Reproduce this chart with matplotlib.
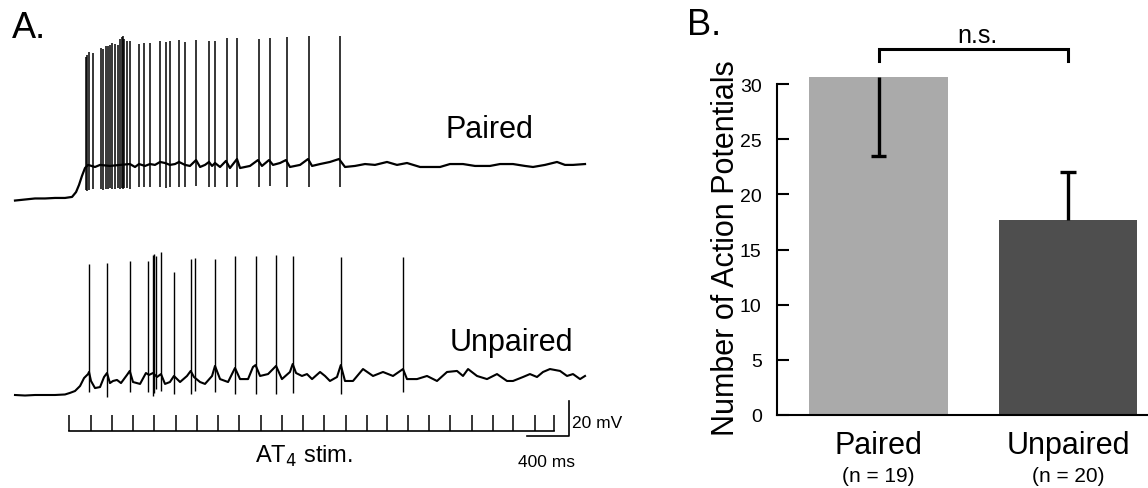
import matplotlib
matplotlib.use("Agg")
import matplotlib.pyplot as plt
import matplotlib.transforms as mtransforms
import numpy as np

plt.rcParams['font.family'] = ['Liberation Sans', 'DejaVu Sans']

# ---------------- Panel A data (time in ms, voltage in mV relative to rest) ----------------
paired_spike_t = [670, 687, 706, 738, 817, 836, 860, 879, 907, 922, 950, 974,
                  998, 1012, 1026, 1040, 1064, 1088, 1181, 1230, 1284, 1378, 1430, 1468,
                  1558, 1612, 1720, 1843, 1900, 2011, 2109, 2318, 2422, 2584, 2790, 3088]
paired_spike_peak = [82.1, 83.2, 85.0, 84.4, 87.3, 86.7, 88.4, 88.4, 89.0, 90.2, 89.6, 89.0,
                     92.5, 93.6, 94.2, 92.5, 91.3, 91.3, 89.6, 90.2, 90.2, 91.3, 90.8, 91.3,
                     91.9, 90.8, 91.9, 91.3, 91.3, 93.1, 93.1, 92.5, 93.1, 93.6, 94.2, 94.2]
paired_spike_trough = [5.2, 4.6, 5.2, 5.8, 5.8, 5.2, 5.8, 5.8, 6.4, 5.8, 5.8, 6.4,
                       5.8, 6.4, 5.8, 6.4, 6.4, 5.8, 6.9, 6.9, 6.9, 6.9, 6.4, 6.9,
                       6.9, 6.9, 7.5, 6.9, 6.9, 6.9, 6.9, 6.9, 7.5, 6.9, 6.9, 6.9]
paired_base_t = [0, 95, 190, 285, 380, 475, 542, 580, 608, 636,
                 665, 694, 760, 808, 902, 998, 1092, 1140, 1178, 1235,
                 1282, 1330, 1378, 1425, 1472, 1520, 1558, 1615, 1662, 1720,
                 1758, 1805, 1843, 1872, 1900, 1948, 2004, 2042, 2109, 2138,
                 2232, 2308, 2346, 2413, 2451, 2518, 2574, 2612, 2708, 2784,
                 2822, 2898, 2992, 3078, 3135, 3230, 3325, 3420, 3534, 3629,
                 3724, 3848, 4038, 4132, 4256, 4370, 4512, 4608, 4731, 4845,
                 4921, 5035, 5149, 5225, 5301, 5415]
paired_base_v = [-0.9, -0.3, 0.3, 0.3, 0.6, 0.6, 1.2, 4.0, 8.1, 13.3,
                 17.9, 19.7, 18.5, 19.7, 19.1, 19.7, 20.2, 18.5, 20.2, 19.1,
                 20.2, 19.7, 21.4, 20.8, 19.7, 20.2, 21.4, 19.7, 19.1, 22.5,
                 18.5, 19.7, 21.4, 19.1, 20.8, 18.5, 22.0, 17.9, 23.1, 17.9,
                 19.1, 22.5, 19.1, 22.5, 19.7, 20.8, 22.5, 18.5, 19.7, 23.1,
                 19.1, 20.2, 21.4, 23.1, 18.5, 19.1, 20.2, 19.7, 21.4, 19.7,
                 20.8, 18.5, 18.5, 20.2, 20.2, 19.1, 19.1, 20.2, 20.2, 19.1,
                 18.5, 19.7, 21.4, 19.7, 19.7, 20.2]

unpaired_spike_t = [703, 874, 1090, 1266, 1308, 1323, 1340, 1387, 1513,
                    1669, 1708, 1903, 2092, 2285, 2478, 2638, 3095, 3689]
unpaired_spike_peak = [75.7, 76.3, 77.6, 77.6, 80.9, 81.3, 80.5, 82.5, 70.9,
                       78.6, 79.2, 78.6, 80.2, 80.5, 80.9, 80.2, 79.6, 79.6]
unpaired_spike_trough = [1.6, -1.3, 1.6, 1.6, -0.4, 1.0, 3.5, 2.5, 0.6,
                         0.6, 2.5, 1.6, 0.6, 0.6, 0.6, 1.2, 0.6, 1.6]
unpaired_base_t = [0, 95, 190, 285, 380, 475, 522, 570, 618, 656,
                   694, 703, 722, 760, 808, 846, 874, 902, 931, 969,
                   1007, 1064, 1090, 1121, 1188, 1244, 1273, 1311, 1349, 1387,
                   1425, 1472, 1510, 1568, 1634, 1669, 1700, 1758, 1805, 1872,
                   1900, 1948, 2024, 2071, 2090, 2138, 2214, 2261, 2285, 2328,
                   2404, 2451, 2480, 2536, 2612, 2638, 2670, 2726, 2774, 2822,
                   2898, 2945, 2992, 3059, 3095, 3135, 3211, 3306, 3401, 3496,
                   3591, 3686, 3724, 3819, 3914, 4009, 4104, 4199, 4256, 4304,
                   4389, 4484, 4579, 4674, 4731, 4826, 4892, 4959, 5016, 5082,
                   5178, 5244, 5301, 5368, 5415]
unpaired_base_v = [0, -0.3, 0, 0, 0, 0.3, 1.2, 2.3, 5.2, 9.8,
                   12.1, 13.3, 8.1, 4.0, 4.6, 10.4, 12.7, 6.9, 8.1, 8.7,
                   6.9, 11.6, 13.9, 7.5, 6.4, 12.7, 11.6, 12.7, 10.4, 12.1,
                   6.4, 7.5, 11.0, 7.5, 11.0, 13.9, 10.4, 7.5, 6.4, 11.0,
                   16.8, 9.2, 7.5, 13.3, 15.6, 9.2, 9.2, 16.2, 17.3, 11.0,
                   12.1, 15.0, 16.8, 9.2, 13.3, 17.9, 12.7, 11.0, 12.1, 9.2,
                   13.3, 11.0, 8.1, 10.4, 17.3, 8.1, 8.1, 15.0, 11.0, 13.3,
                   11.0, 15.0, 9.2, 9.2, 11.0, 8.1, 13.3, 13.9, 11.0, 15.0,
                   11.0, 9.2, 12.1, 8.1, 8.1, 10.4, 12.1, 10.4, 13.3, 15.0,
                   13.9, 11.0, 12.1, 9.2, 11.0]

stim_times = [513, 719, 921, 1121, 1320, 1529, 1729, 1928, 2128, 2337, 2536, 2736,
              2935, 3145, 3344, 3534, 3733, 3933, 4132, 4341, 4541, 4731, 4940, 5120]

scale_ms = 400
scale_mV = 20

# ---------------- Panel B data ----------------
groups = ['Paired', 'Unpaired']
group_n = ['(n = 19)', '(n = 20)']
ap_means = [30.6, 17.7]
ap_err_lower = [7.1, 0.0]
ap_err_upper = [0.0, 4.3]
yticks_B = [0, 5, 10, 15, 20, 25, 30]

# ---------------- Figure ----------------
W, H = 1148, 489
fig = plt.figure(figsize=(W / 100, H / 100), dpi=100)


def fx(x):
    return x / W


def fy(y):
    return 1 - y / H


# Panel A
axA = fig.add_axes([0, 0, 640 / W, 1])
axA.set_xlim(-142.5, 5937.5)
axA.set_ylim(-53.76, 228.9)
axA.axis('off')

paired_offset = 113.3  # vertical display offset of the upper trace

axA.plot(paired_base_t, np.array(paired_base_v) + paired_offset, color='k', lw=1.6,
         solid_joinstyle='round')
axA.vlines(paired_spike_t, np.array(paired_spike_trough) + paired_offset,
           np.array(paired_spike_peak) + paired_offset, color='k', lw=1.1)

axA.plot(unpaired_base_t, unpaired_base_v, color='k', lw=1.5, solid_joinstyle='round')
axA.vlines(unpaired_spike_t, unpaired_spike_trough, unpaired_spike_peak, color='k', lw=1.0)

# stimulus marker
stim_base = -20.8
stim_tick = 9.2
axA.plot([stim_times[0], stim_times[-1]], [stim_base, stim_base], color='k', lw=1.2)
axA.vlines(stim_times, stim_base, stim_base + stim_tick, color='k', lw=1.1)

# scale bars
sb_t = 5263
sb_v = -23.7
axA.plot([sb_t - scale_ms, sb_t, sb_t], [sb_v, sb_v, sb_v + scale_mV], color='k', lw=1.2)

fig.text(fx(12), fy(38), 'A.', fontsize=26, ha='left', va='baseline')
fig.text(fx(489), fy(138), 'Paired', fontsize=22, ha='center', va='baseline')
fig.text(fx(511), fy(351), 'Unpaired', fontsize=22, ha='center', va='baseline')
fig.text(fx(304), fy(463), r'AT$_4$ stim.', fontsize=17, ha='center', va='baseline')
fig.text(fx(572), fy(428), '20 mV', fontsize=12.5, ha='left', va='baseline')
fig.text(fx(546), fy(467), '400 ms', fontsize=12.5, ha='center', va='baseline')

# Panel B
axB = fig.add_axes([fx(777), fy(416), 371 / W, 376 / H])
xpos = np.arange(len(groups))
axB.bar(xpos, ap_means, width=0.733, color=['#aaaaaa', '#4e4e4e'], zorder=1)

# one-sided error bars, cap only at the far end
means = np.array(ap_means)
lo = means - np.array(ap_err_lower)
hi = means + np.array(ap_err_upper)
axB.vlines(xpos, lo, hi, color='k', lw=2.4, zorder=2)
cap_half = 0.04
for xi, m, l, h in zip(xpos, means, lo, hi):
    end = l if l < m else h
    axB.hlines(end, xi - cap_half, xi + cap_half, color='k', lw=2.4, zorder=2)

axB.set_xlim(-0.536, 1.422)
axB.set_ylim(0, 376 / 11.033)
for s in ['top', 'right']:
    axB.spines[s].set_visible(False)
axB.spines['left'].set_bounds(0, 30)
axB.spines['left'].set_linewidth(1.5)
axB.spines['bottom'].set_linewidth(1.5)
axB.set_yticks(yticks_B)
axB.tick_params(axis='y', direction='in', length=8.6, width=1.5, labelsize=14, pad=11)
axB.set_xticks([])

# significance bracket
axB.plot([0, 0, 1, 1], [32.09, 33.17, 33.17, 32.09], color='k', lw=2.2,
         clip_on=False, solid_joinstyle='miter')
fig.text(fx(977), fy(42.7), 'n.s.', fontsize=18, ha='center', va='baseline')

trans = mtransforms.blended_transform_factory(axB.transData, fig.transFigure)
for xi, g, n in zip(xpos, groups, group_n):
    axB.text(xi, fy(454), g, transform=trans, fontsize=22, ha='center', va='baseline')
    axB.text(xi, fy(481.7), n, transform=trans, fontsize=15, ha='center', va='baseline')

fig.text(fx(726), fy(248), 'Number of Action Potentials', fontsize=22, rotation=90,
         ha='center', va='center')
fig.text(fx(687), fy(35), 'B.', fontsize=26, ha='left', va='baseline')

fig.savefig('out.png', dpi=100)
